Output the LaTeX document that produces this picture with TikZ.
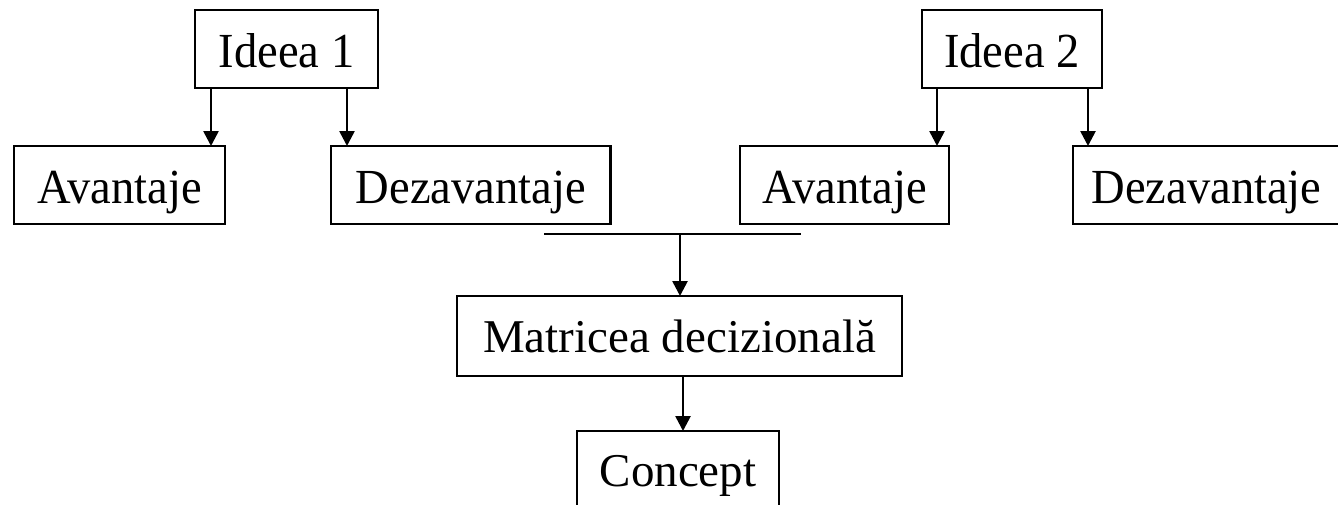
\documentclass[tikz,border=0pt]{standalone}
\usepackage{fontspec}
\setmainfont{Liberation Serif}
\newfontfamily\tallserif{Liberation Serif}[FakeStretch=0.95]
\usetikzlibrary{arrows.meta}

\tikzset{
  box/.style={draw=black, line width=2.5pt, rectangle, inner sep=0pt, outer sep=0pt,
    minimum height=78pt, text height=40pt, text depth=4pt,
    font=\tallserif\fontsize{49}{55}\selectfont},
  lowbox/.style={box, text height=38pt, text depth=5pt,
    font=\fontsize{47}{53}\selectfont},
  arr/.style={draw=black, line width=2.6pt, -{Triangle[width=15pt,length=15pt]}},
  bar/.style={draw=black, line width=2.5pt}
}

\begin{document}
\begin{tikzpicture}[x=1pt, y=-1pt]
  \useasboundingbox (0,0) rectangle (1338,504);

  % first idea and its pros and cons
  \node[box, minimum width=183pt] (ideea1) at (286.5,49) {Ideea 1};
  \node[box, minimum width=211pt] (av1)  at (119.5,185) {Avantaje};
  \node[box, minimum width=279.5pt] (dez1) at (470.75,185) {Dezavantaje};

  % second idea and its pros and cons
  \node[box, minimum width=180pt] (ideea2) at (1012,49) {Ideea 2};
  \node[box, minimum width=209pt] (av2)  at (844.5,185) {Avantaje};
  \node[box, minimum width=267pt] (dez2) at (1206.5,185) {Dezavantaje};

  % decision chain
  \node[lowbox, minimum width=445pt, minimum height=80pt] (matrice) at (679.5,336) {Matricea decizională};
  \node[lowbox, minimum width=202pt] (concept) at (678,470) {Concept};

  % branching arrows
  \draw[arr] ([xshift=-75.5pt]ideea1.south) -- ([xshift=-75.5pt]ideea1.south |- av1.north);
  \draw[arr] ([xshift=60.5pt]ideea1.south) -- ([xshift=60.5pt]ideea1.south |- dez1.north);
  \draw[arr] ([xshift=-75pt]ideea2.south) -- ([xshift=-75pt]ideea2.south |- av2.north);
  \draw[arr] ([xshift=76pt]ideea2.south) -- ([xshift=76pt]ideea2.south |- dez2.north);

  % collecting bar and the arrows below it
  \coordinate (barL) at (544,234);
  \coordinate (barR) at (801,234);
  \coordinate (join) at (680,234);
  \draw[bar] (barL) -- (barR);
  \draw[arr] (join) -- (join |- matrice.north);
  \draw[arr] ([xshift=3.5pt]matrice.south) -- ([xshift=3.5pt]matrice.south |- concept.north);
\end{tikzpicture}
\end{document}
